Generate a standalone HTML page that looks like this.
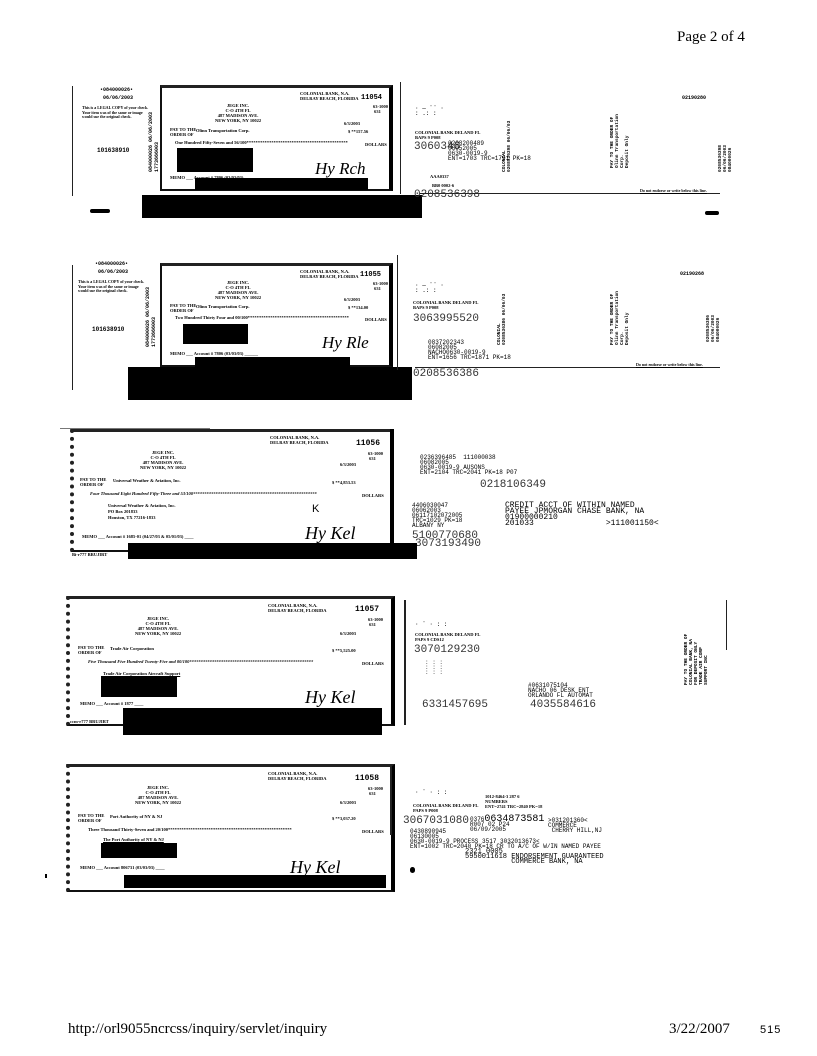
<!DOCTYPE html>
<html><head><meta charset="utf-8">
<style>
body{margin:0;background:#fff;}
#p{position:relative;width:817px;height:1056px;overflow:hidden;background:#fff;font-family:"Liberation Sans",sans-serif;color:#000;}
.a{position:absolute;white-space:nowrap;line-height:1;}
.b{position:absolute;background:#000;}
.ck{position:absolute;border:2px solid #111;border-top:3px solid #222;border-right:4px solid #000;box-sizing:border-box;}
.t{font-family:"Liberation Serif",serif;font-weight:bold;font-size:4.5px;}
.s{font-size:4px;font-weight:bold;font-family:"Liberation Serif",serif;}
.n{font-family:"Liberation Mono",monospace;font-weight:bold;}
.m{font-family:"Liberation Mono",monospace;font-size:6px;line-height:5px;}
.big{font-family:"Liberation Mono",monospace;font-size:11px;color:#333;}
.r{transform:rotate(-90deg);transform-origin:left top;}
.ln{position:absolute;background:#222;}
.sig{position:absolute;white-space:nowrap;line-height:1;font-family:'Liberation Serif',serif;font-style:italic;font-size:17px;}
</style></head><body><div id="p">

<div class="a" style="left:677px;top:30px;font-family:'Liberation Serif',serif;font-size:15px;">Page 2 of 4</div>

<!-- ROW 1 stub -->
<div class="ln" style="left:72px;top:86px;width:1px;height:110px;"></div>
<div class="a n" style="left:100px;top:88px;font-size:5px;">•084000026•</div>
<div class="a n" style="left:103px;top:96px;font-size:5px;">06/06/2003</div>
<div class="a s" style="left:82px;top:106px;line-height:4.5px;">This is a LEGAL COPY of your check.<br>Your item was of the same or image<br>would use the original check.</div>
<div class="a n" style="left:97px;top:148px;font-size:6px;">101638910</div>
<div class="a n r" style="left:148px;top:172px;font-size:5px;line-height:6px;">084000026 06/06/2003<br>1773666003</div>
<div class="b" style="left:90px;top:209px;width:20px;height:4px;border-radius:2px;"></div>
<!-- check 11054 -->
<div class="ck" style="left:160px;top:85px;width:233px;height:106px;"></div>
<div class="a t" style="left:300px;top:92px;">COLONIAL BANK, N.A.<br>DELRAY BEACH, FLORIDA</div>
<div class="a n" style="left:361px;top:95px;font-size:7px;">11054</div>
<div class="a t" style="left:373px;top:105px;">63-1000<br>&nbsp;631</div>
<div class="a t" style="left:215px;top:103px;text-align:center;line-height:5px;">JEGE INC.<br>C-O 4TH FL<br>487 MADISON AVE.<br>NEW YORK, NY 10022</div>
<div class="a t" style="left:344px;top:122px;">6/3/2003</div>
<div class="a t" style="left:170px;top:127px;line-height:5px;">PAY TO THE<br>ORDER OF</div>
<div class="a t" style="left:196px;top:129px;">Olinn Transportation Corp.</div>
<div class="a t" style="left:348px;top:130px;">$ **157.56</div>
<div class="a t" style="left:175px;top:141px;">One Hundred Fifty-Seven and 56/100*********************************************</div>
<div class="a t" style="left:365px;top:143px;">DOLLARS</div>
<div class="b" style="left:177px;top:148px;width:76px;height:24px;"></div>
<div class="sig" style="left:315px;top:160px;">Hy Rch</div>
<div class="a t" style="left:170px;top:176px;">MEMO ___ Account # 7806 (03/03/03) ______</div>
<div class="b" style="left:195px;top:178px;width:173px;height:12px;"></div>
<div class="b" style="left:142px;top:195px;width:280px;height:23px;"></div>
<!-- back 1 -->
<div class="ln" style="left:400px;top:82px;width:1px;height:112px;"></div>
<div class="ln" style="left:420px;top:193px;width:300px;height:1px;"></div>
<div class="a m" style="left:415px;top:106px;">· — ¨¨ ·<br>: .:  :</div>
<div class="a t" style="left:415px;top:130px;line-height:5px;">COLONIAL BANK DELAND FL<br>BAPS 9 P008</div>
<div class="a big" style="left:414px;top:142px;">3060346</div>
<div class="a m" style="left:448px;top:141px;">0208200489<br>06052005<br>0630-0019-9<br>ENT=1703 TRC=1791 PK=18</div>
<div class="a t" style="left:430px;top:175px;">AAA0337</div>
<div class="a t" style="left:432px;top:184px;">BB0 0002-6</div>
<div class="a big" style="left:414px;top:190px;">0208536398</div>
<div class="a n r" style="left:502px;top:172px;font-size:4.5px;line-height:5px;">COLONIAL<br>0208536398 06/06/03</div>
<div class="a n r" style="left:610px;top:168px;font-size:4.5px;line-height:5px;">PAY TO THE ORDER OF<br>Olinn Transportation<br>Corp.<br>Deposit Only</div>
<div class="a n" style="left:682px;top:96px;font-size:5px;">02190280</div>
<div class="a n r" style="left:718px;top:172px;font-size:4.5px;line-height:5px;">0208536398<br>06/06/2003<br>084000026</div>
<div class="a s" style="left:640px;top:189px;text-decoration:underline;">Do not endorse or write below this line.</div>
<div class="b" style="left:705px;top:211px;width:14px;height:4px;border-radius:2px;"></div>

<!-- ROW 2 stub -->
<div class="ln" style="left:72px;top:265px;width:1px;height:125px;"></div>
<div class="ln" style="left:60px;top:428px;width:150px;height:1px;background:#777;"></div>
<div class="a n" style="left:95px;top:262px;font-size:5px;">•084000026•</div>
<div class="a n" style="left:98px;top:270px;font-size:5px;">06/06/2003</div>
<div class="a s" style="left:78px;top:280px;line-height:4.5px;">This is a LEGAL COPY of your check.<br>Your item was of the same or image<br>would use the original check.</div>
<div class="a n" style="left:92px;top:327px;font-size:6px;">101638910</div>
<div class="a n r" style="left:145px;top:347px;font-size:5px;line-height:6px;">084000026 06/06/2003<br>1773666003</div>
<!-- check 11055 -->
<div class="ck" style="left:160px;top:263px;width:233px;height:104px;"></div>
<div class="a t" style="left:300px;top:270px;">COLONIAL BANK, N.A.<br>DELRAY BEACH, FLORIDA</div>
<div class="a n" style="left:360px;top:272px;font-size:7px;">11055</div>
<div class="a t" style="left:373px;top:282px;">63-1000<br>&nbsp;631</div>
<div class="a t" style="left:215px;top:280px;text-align:center;line-height:5px;">JEGE INC.<br>C-O 4TH FL<br>487 MADISON AVE.<br>NEW YORK, NY 10022</div>
<div class="a t" style="left:344px;top:298px;">6/3/2003</div>
<div class="a t" style="left:170px;top:303px;line-height:5px;">PAY TO THE<br>ORDER OF</div>
<div class="a t" style="left:196px;top:305px;">Olinn Transportation Corp.</div>
<div class="a t" style="left:348px;top:306px;">$ **134.00</div>
<div class="a t" style="left:175px;top:316px;">Two Hundred Thirty Four and 00/100*********************************************</div>
<div class="a t" style="left:365px;top:318px;">DOLLARS</div>
<div class="b" style="left:183px;top:324px;width:65px;height:20px;"></div>
<div class="sig" style="left:322px;top:334px;">Hy Rle</div>
<div class="a t" style="left:170px;top:352px;">MEMO ___ Account # 7806 (03/03/03) ______</div>
<div class="b" style="left:195px;top:357px;width:155px;height:10px;"></div>
<div class="b" style="left:128px;top:367px;width:284px;height:33px;"></div>
<!-- back 2 -->
<div class="ln" style="left:397px;top:255px;width:1px;height:115px;"></div>
<div class="ln" style="left:415px;top:367px;width:305px;height:1px;"></div>
<div class="a m" style="left:415px;top:283px;">· — ¨¨ ·<br>: .:  :</div>
<div class="a t" style="left:413px;top:300px;line-height:5px;">COLONIAL BANK DELAND FL<br>BAPS 9 P008</div>
<div class="a big" style="left:413px;top:314px;">3063995520</div>
<div class="a m" style="left:428px;top:340px;">0837202343<br>06082005<br>NACHO0630-0019-9<br>ENT=1656 TRC=1871 PK=18</div>
<div class="a big" style="left:413px;top:369px;">0208536386</div>
<div class="a n r" style="left:497px;top:345px;font-size:4.5px;line-height:5px;">COLONIAL<br>0208536386 06/06/03</div>
<div class="a n r" style="left:610px;top:345px;font-size:4.5px;line-height:5px;">PAY TO THE ORDER OF<br>Olinn Transportation<br>Corp.<br>Deposit Only</div>
<div class="a n" style="left:680px;top:272px;font-size:5px;">02190268</div>
<div class="a n r" style="left:706px;top:342px;font-size:4.5px;line-height:5px;">0208536386<br>06/06/2003<br>084000026</div>
<div class="a s" style="left:636px;top:363px;text-decoration:underline;">Do not endorse or write below this line.</div>

<!-- ROW 3 check 11056 -->
<div class="ck" style="left:70px;top:429px;width:324px;height:123px;border-left:4px dotted #222;"></div>
<div class="a t" style="left:270px;top:436px;">COLONIAL BANK, N.A.<br>DELRAY BEACH, FLORIDA</div>
<div class="a n" style="left:356px;top:440px;font-size:8px;">11056</div>
<div class="a t" style="left:368px;top:452px;">63-1000<br>&nbsp;631</div>
<div class="a t" style="left:140px;top:450px;text-align:center;line-height:5px;">JEGE INC.<br>C-O 4TH FL<br>487 MADISON AVE.<br>NEW YORK, NY 10022</div>
<div class="a t" style="left:340px;top:463px;">6/3/2003</div>
<div class="a t" style="left:80px;top:477px;line-height:5px;">PAY TO THE<br>ORDER OF</div>
<div class="a t" style="left:113px;top:479px;">Universal Weather &amp; Aviation, Inc.</div>
<div class="a t" style="left:332px;top:481px;">$ **4,853.53</div>
<div class="a t" style="left:90px;top:492px;font-style:italic;">Four Thousand Eight Hundred Fifty-Three and 53/100*******************************************************</div>
<div class="a t" style="left:362px;top:494px;">DOLLARS</div>
<div class="a t" style="left:108px;top:503px;line-height:6px;">Universal Weather &amp; Aviation, Inc.<br>PO Box 201833<br>Houston, TX 77216-1833</div>
<div class="a" style="left:312px;top:504px;font-size:11px;">K</div>
<div class="sig" style="left:305px;top:524px;font-size:18px;">Hy Kel</div>
<div class="a t" style="left:82px;top:535px;">MEMO ___ Account # 1685-01 (04/27/03 &amp; 05/01/03) ____</div>
<div class="b" style="left:128px;top:543px;width:289px;height:16px;"></div>
<div class="a t" style="left:72px;top:553px;">Bi-r777 BRUJIRT</div>
<!-- back 3 -->
<div class="b" style="left:390px;top:429px;width:4px;height:114px;"></div>
<div class="a m" style="left:420px;top:455px;">0236396485 &nbsp;111000038<br>06082005<br>0630-0019-9 AUSONS<br>ENT=2104 TRC=2041 PK=18 P07</div>
<div class="a big" style="left:480px;top:480px;">0218106349</div>
<div class="a m" style="left:412px;top:503px;">4406030047<br>06062003<br>06117102072005<br>TRC=1029 PK=18<br>ALBANY NY</div>
<div class="a m" style="left:505px;top:503px;font-size:8px;line-height:6px;">CREDIT ACCT OF WITHIN NAMED<br>PAYEE JPMORGAN CHASE BANK, NA<br>01900000210<br>201033 &nbsp;&nbsp;&nbsp;&nbsp;&nbsp;&nbsp;&nbsp;&nbsp;&nbsp;&nbsp;&nbsp;&nbsp;&nbsp;&nbsp;&gt;111001150&lt;</div>
<div class="a big" style="left:412px;top:531px;">5100770680</div>
<div class="a big" style="left:415px;top:539px;">3073193490</div>
<div class="b" style="left:390px;top:543px;width:27px;height:16px;"></div>

<!-- ROW 4 check 11057 -->
<div class="ck" style="left:66px;top:596px;width:329px;height:130px;border-left:4px dotted #222;"></div>
<div class="a t" style="left:268px;top:604px;">COLONIAL BANK, N.A.<br>DELRAY BEACH, FLORIDA</div>
<div class="a n" style="left:355px;top:606px;font-size:8px;">11057</div>
<div class="a t" style="left:368px;top:618px;">63-1000<br>&nbsp;631</div>
<div class="a t" style="left:135px;top:616px;text-align:center;line-height:5px;">JEGE INC.<br>C-O 4TH FL<br>487 MADISON AVE.<br>NEW YORK, NY 10022</div>
<div class="a t" style="left:340px;top:632px;">6/3/2003</div>
<div class="a t" style="left:78px;top:645px;line-height:5px;">PAY TO THE<br>ORDER OF</div>
<div class="a t" style="left:110px;top:647px;">Trade Air Corporation</div>
<div class="a t" style="left:332px;top:649px;">$ **5,525.00</div>
<div class="a t" style="left:88px;top:660px;font-style:italic;">Five Thousand Five Hundred Twenty-Five and 00/100*******************************************************</div>
<div class="a t" style="left:362px;top:662px;">DOLLARS</div>
<div class="a t" style="left:103px;top:672px;text-decoration:underline;">Trade Air Corporation Aircraft Support</div>
<div class="b" style="left:101px;top:676px;width:76px;height:21px;"></div>
<div class="sig" style="left:305px;top:688px;font-size:18px;">Hy Kel</div>
<div class="a t" style="left:80px;top:702px;">MEMO ___ Account # 1877 ____</div>
<div class="b" style="left:123px;top:708px;width:259px;height:27px;"></div>
<div class="a t" style="left:70px;top:720px;">ccm-r777 BRUJIRT</div>
<!-- back 4 -->
<div class="ln" style="left:404px;top:600px;width:2px;height:125px;"></div>
<div class="a m" style="left:415px;top:622px;">· ¨ · : :</div>
<div class="a t" style="left:415px;top:632px;line-height:5px;">COLONIAL BANK DELAND FL<br>PAPS 9 CDS12</div>
<div class="a big" style="left:414px;top:645px;">3070129230</div>
<div class="a m" style="left:425px;top:660px;color:#555;">: : :<br>: : :<br>: : :</div>
<div class="a m" style="left:528px;top:683px;">#0631075104<br>NACHO 06 DESK ENT<br>ORLANDO FL AUTOMAT</div>
<div class="a big" style="left:422px;top:700px;">6331457695</div>
<div class="a big" style="left:530px;top:700px;">4035584616</div>
<div class="a n r" style="left:684px;top:685px;font-size:4.5px;line-height:5px;">PAY TO THE ORDER OF<br>COLONIAL BANK, NA<br>FOR DEPOSIT ONLY<br>TRADE AIR CORP<br>SUPPORT INC</div>
<div class="ln" style="left:726px;top:600px;width:1px;height:50px;"></div>

<!-- ROW 5 check 11058 -->
<div class="ck" style="left:66px;top:764px;width:329px;height:128px;border-left:4px dotted #222;"></div>
<div class="a t" style="left:268px;top:772px;">COLONIAL BANK, N.A.<br>DELRAY BEACH, FLORIDA</div>
<div class="a n" style="left:355px;top:775px;font-size:8px;">11058</div>
<div class="a t" style="left:368px;top:787px;">63-1000<br>&nbsp;631</div>
<div class="a t" style="left:135px;top:785px;text-align:center;line-height:5px;">JEGE INC.<br>C-O 4TH FL<br>487 MADISON AVE.<br>NEW YORK, NY 10022</div>
<div class="a t" style="left:340px;top:801px;">6/3/2003</div>
<div class="a t" style="left:78px;top:813px;line-height:5px;">PAY TO THE<br>ORDER OF</div>
<div class="a t" style="left:110px;top:815px;">Port Authority of NY &amp; NJ</div>
<div class="a t" style="left:332px;top:817px;">$ **3,037.20</div>
<div class="a t" style="left:88px;top:828px;">Three Thousand Thirty-Seven and 20/100*******************************************************</div>
<div class="a t" style="left:362px;top:830px;">DOLLARS</div>
<div class="a t" style="left:103px;top:838px;text-decoration:underline;">The Port Authority of NY &amp; NJ</div>
<div class="b" style="left:101px;top:843px;width:76px;height:15px;"></div>
<div class="sig" style="left:290px;top:858px;font-size:18px;">Hy Kel</div>
<div class="a t" style="left:80px;top:866px;">MEMO ___ Account 806731 (03/03/03) ____</div>
<div class="b" style="left:124px;top:875px;width:262px;height:13px;"></div>
<div class="b" style="left:45px;top:874px;width:2px;height:4px;"></div>
<!-- back 5 -->
<div class="ln" style="left:390px;top:765px;width:2px;height:70px;"></div>
<div class="a m" style="left:415px;top:790px;">· ¨ · : :</div>
<div class="a t" style="left:413px;top:803px;line-height:5px;">COLONIAL BANK DELAND FL<br>PAPS 9 P008</div>
<div class="a t" style="left:485px;top:794px;line-height:5px;">1012-8464-3 287 6<br>NUMBERS<br>ENT=2741 TRC=2840 PK=18</div>
<div class="a big" style="left:403px;top:816px;">3067031080</div>
<div class="a m" style="left:470px;top:817px;">0376<span style="font-size:10px">0634873581</span><br>R007 02 P24<br>06/09/2005</div>
<div class="a m" style="left:548px;top:818px;">&gt;031201360&lt;<br>COMMERCE<br>&nbsp;CHERRY HILL,NJ</div>
<div class="a m" style="left:410px;top:829px;">0430890945<br>06130005<br>0630-0019-9 PROCESS 3517 3032013673&lt;<br>ENT=1002 TRC=2040 PK=18 CR TO A/C OF W/IN NAMED PAYEE</div>
<div class="a m" style="left:465px;top:850px;font-size:7px;">2321 0005<br>5950011618 ENDORSEMENT GUARANTEED<br>&nbsp;&nbsp;&nbsp;&nbsp;&nbsp;&nbsp;&nbsp;&nbsp;&nbsp;&nbsp;&nbsp;COMMERCE BANK, NA</div>
<div class="b" style="left:410px;top:867px;width:5px;height:6px;border-radius:3px;"></div>

<div class="a" style="left:68px;top:1022px;font-family:'Liberation Serif',serif;font-size:15px;">http://orl9055ncrcss/inquiry/servlet/inquiry</div>
<div class="a" style="left:669px;top:1022px;font-family:'Liberation Serif',serif;font-size:15px;">3/22/2007</div>
<div class="a" style="left:760px;top:1025px;font-size:11px;letter-spacing:1px;">515</div>
</div></body></html>
